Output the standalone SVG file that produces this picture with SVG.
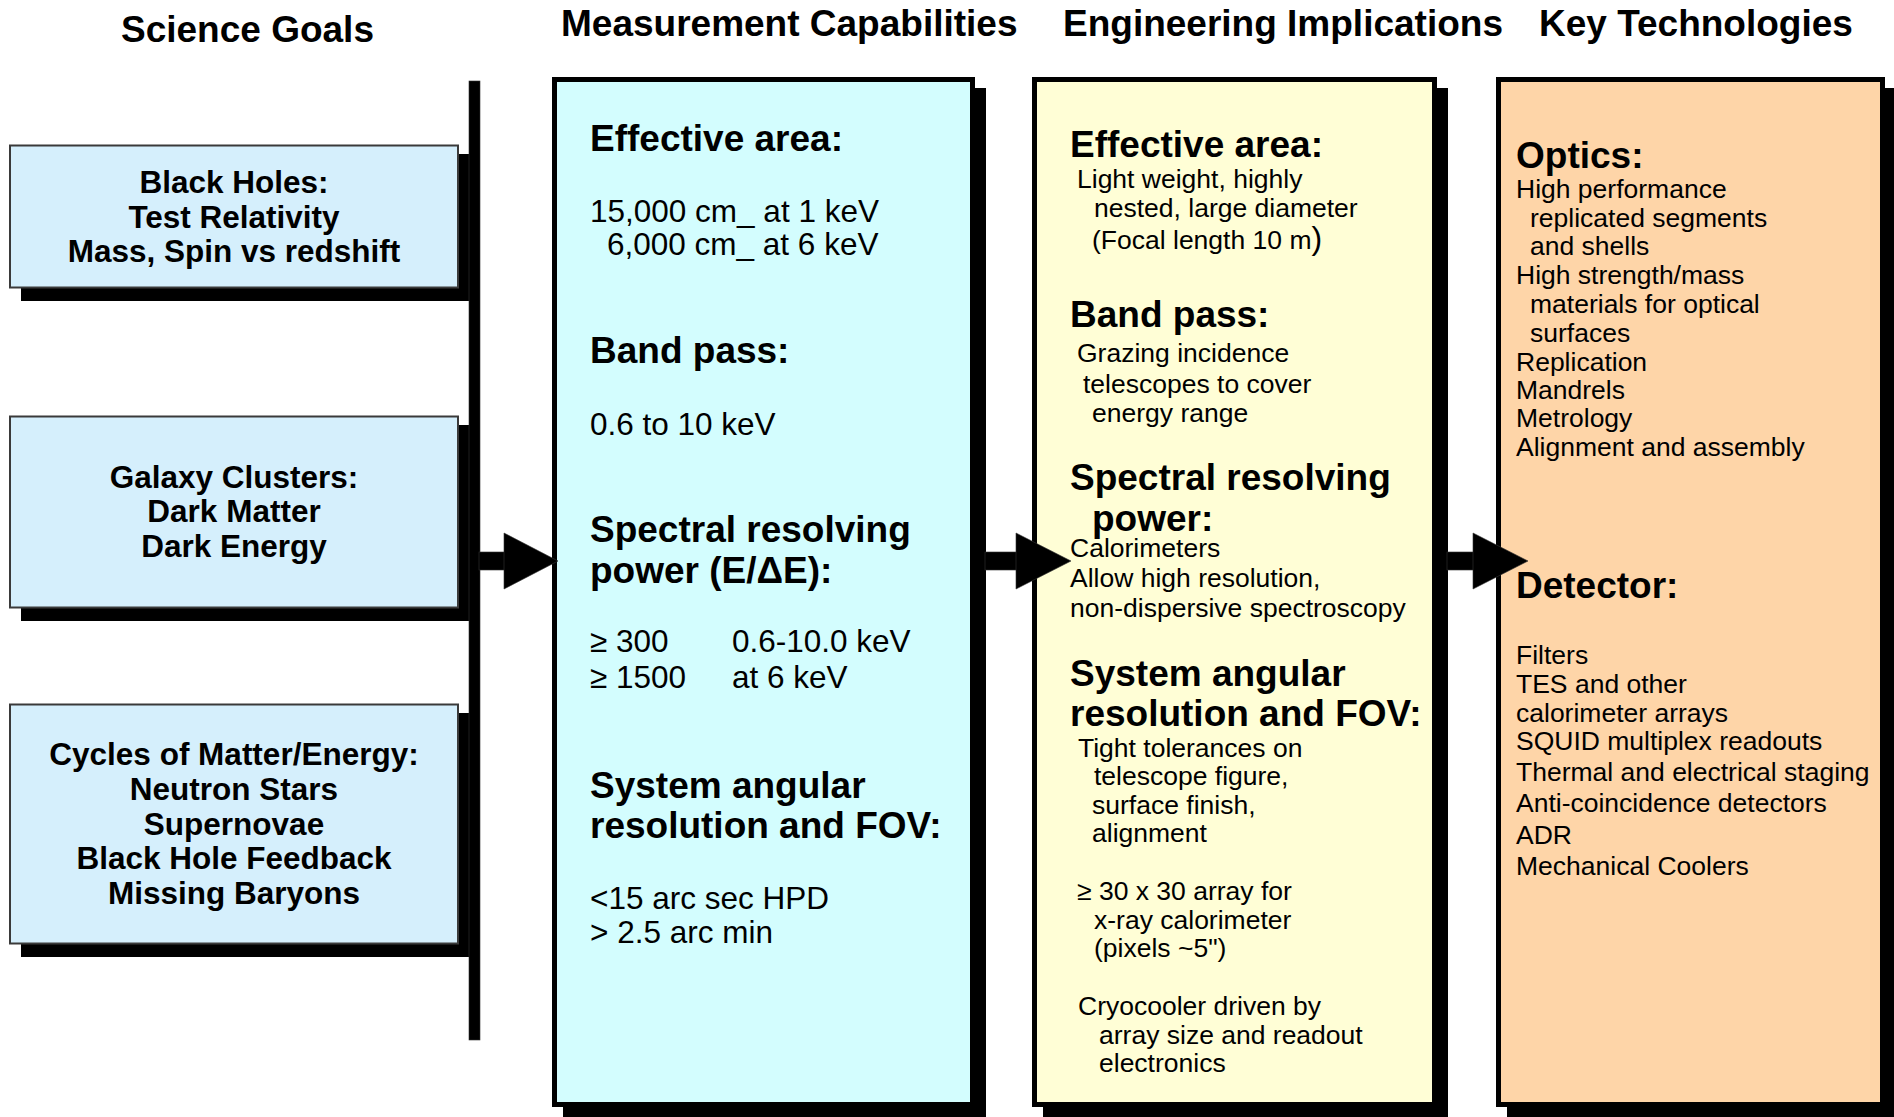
<svg xmlns="http://www.w3.org/2000/svg" width="1894" height="1117" viewBox="0 0 1894 1117">
<style>
text{font-family:"Liberation Sans",Arial,Helvetica,sans-serif;fill:#000}
.hd{font-size:37px;font-weight:bold}
.sg{font-size:31.5px;font-weight:bold;text-anchor:middle}
.b{font-size:37px;font-weight:bold}
.m{font-size:31.5px}
.r{font-size:26.5px}
.shadow{fill:#000}
.sbox{fill:#D5EFFC;stroke:#3a3a3a;stroke-width:2}
.big{stroke:#000;stroke-width:5}
.conn{fill:#000;stroke:#333;stroke-width:0.6}
</style>

<g id="headers">
<text class="hd" x="121" y="42">Science Goals</text>
<text class="hd" x="561" y="36">Measurement Capabilities</text>
<text class="hd" x="1063" y="36">Engineering Implications</text>
<text class="hd" x="1539" y="36">Key Technologies</text>
</g>

<g id="goal-black-holes">
<rect class="shadow" x="21" y="154" width="448" height="147"/>
<rect class="sbox" x="10" y="145.5" width="448" height="142"/>
<text class="sg" x="234" y="193">Black Holes:</text>
<text class="sg" x="234" y="228">Test Relativity</text>
<text class="sg" x="234" y="262">Mass, Spin vs redshift</text>
</g>

<g id="goal-galaxy-clusters">
<rect class="shadow" x="21" y="425" width="448" height="196"/>
<rect class="sbox" x="10" y="416.5" width="448" height="191"/>
<text class="sg" x="234" y="488">Galaxy Clusters:</text>
<text class="sg" x="234" y="522">Dark Matter</text>
<text class="sg" x="234" y="557">Dark Energy</text>
</g>

<g id="goal-cycles">
<rect class="shadow" x="21" y="713" width="448" height="244"/>
<rect class="sbox" x="10" y="704.5" width="448" height="239"/>
<text class="sg" x="234" y="765">Cycles of Matter/Energy:</text>
<text class="sg" x="234" y="800">Neutron Stars</text>
<text class="sg" x="234" y="835">Supernovae</text>
<text class="sg" x="234" y="869">Black Hole Feedback</text>
<text class="sg" x="234" y="904">Missing Baryons</text>
</g>

<g id="measurement">
<rect class="shadow" x="563" y="88" width="423" height="1030"/>
<rect class="big" x="554.5" y="79.5" width="418" height="1025" fill="#D3FDFE"/>
<text class="b" x="590" y="151">Effective area:</text>
<text class="m" x="590" y="222">15,000 cm_ at 1 keV</text>
<text class="m" x="607" y="255">6,000 cm_ at 6 keV</text>
<text class="b" x="590" y="363">Band pass:</text>
<text class="m" x="590" y="435">0.6 to 10 keV</text>
<text class="b" x="590" y="542">Spectral resolving</text>
<text class="b" x="590" y="583">power (E/ΔE):</text>
<text class="m" x="590" y="652">≥ 300</text>
<text class="m" x="732" y="652">0.6-10.0 keV</text>
<text class="m" x="590" y="688">≥ 1500</text>
<text class="m" x="732" y="688">at 6 keV</text>
<text class="b" x="590" y="798">System angular</text>
<text class="b" x="590" y="838">resolution and FOV:</text>
<text class="m" x="590" y="909">&lt;15 arc sec HPD</text>
<text class="m" x="590" y="943">&gt; 2.5 arc min</text>
</g>

<g id="engineering">
<rect class="shadow" x="1043" y="88" width="405" height="1030"/>
<rect class="big" x="1034.5" y="79.5" width="400" height="1025" fill="#FFFED6"/>
<text class="b" x="1070" y="157">Effective area:</text>
<text class="r" x="1077" y="188">Light weight, highly</text>
<text class="r" x="1094" y="217">nested, large diameter</text>
<text class="r" x="1092" y="249">(Focal length 10 m<tspan font-size="32">)</tspan></text>
<text class="b" x="1070" y="327">Band pass:</text>
<text class="r" x="1077" y="362">Grazing incidence</text>
<text class="r" x="1083" y="393">telescopes to cover</text>
<text class="r" x="1092" y="422">energy range</text>
<text class="b" x="1070" y="490">Spectral resolving</text>
<text class="b" x="1092" y="531">power:</text>
<text class="r" x="1070" y="557">Calorimeters</text>
<text class="r" x="1070" y="587">Allow high resolution,</text>
<text class="r" x="1070" y="617">non-dispersive spectroscopy</text>
<text class="b" x="1070" y="686">System angular</text>
<text class="b" x="1070" y="726">resolution and FOV:</text>
<text class="r" x="1078" y="757">Tight tolerances on</text>
<text class="r" x="1094" y="785">telescope figure,</text>
<text class="r" x="1092" y="814">surface finish,</text>
<text class="r" x="1092" y="842">alignment</text>
<text class="r" x="1077" y="900">≥ 30 x 30 array for</text>
<text class="r" x="1094" y="929">x-ray calorimeter</text>
<text class="r" x="1094" y="957">(pixels ~5")</text>
<text class="r" x="1078" y="1015">Cryocooler driven by</text>
<text class="r" x="1099" y="1044">array size and readout</text>
<text class="r" x="1099" y="1072">electronics</text>
</g>

<g id="key-technologies">
<rect class="shadow" x="1507" y="88" width="389" height="1030"/>
<rect class="big" x="1498.5" y="79.5" width="384" height="1025" fill="#FED5A8"/>
<text class="b" x="1516" y="168">Optics:</text>
<text class="r" x="1516" y="198">High performance</text>
<text class="r" x="1530" y="227">replicated segments</text>
<text class="r" x="1530" y="255">and shells</text>
<text class="r" x="1516" y="284">High strength/mass</text>
<text class="r" x="1530" y="313">materials for optical</text>
<text class="r" x="1530" y="342">surfaces</text>
<text class="r" x="1516" y="371">Replication</text>
<text class="r" x="1516" y="399">Mandrels</text>
<text class="r" x="1516" y="427">Metrology</text>
<text class="r" x="1516" y="456">Alignment and assembly</text>
<text class="b" x="1516" y="598">Detector:</text>
<text class="r" x="1516" y="664">Filters</text>
<text class="r" x="1516" y="693">TES and other</text>
<text class="r" x="1516" y="722">calorimeter arrays</text>
<text class="r" x="1516" y="750">SQUID multiplex readouts</text>
<text class="r" x="1516" y="781">Thermal and electrical staging</text>
<text class="r" x="1516" y="812">Anti-coincidence detectors</text>
<text class="r" x="1516" y="844">ADR</text>
<text class="r" x="1516" y="875">Mechanical Coolers</text>
</g>

<g id="connectors">
<rect class="conn" x="469" y="81" width="11" height="959"/>
<rect class="conn" x="479" y="552" width="27" height="18"/>
<polygon class="conn" points="504,533 558,561 504,589"/>
<rect class="conn" x="985" y="552" width="33" height="18"/>
<polygon class="conn" points="1016,533 1071,561 1016,589"/>
<rect class="conn" x="1447" y="552" width="28" height="18"/>
<polygon class="conn" points="1473,533 1528,561 1473,589"/>
</g>
</svg>
